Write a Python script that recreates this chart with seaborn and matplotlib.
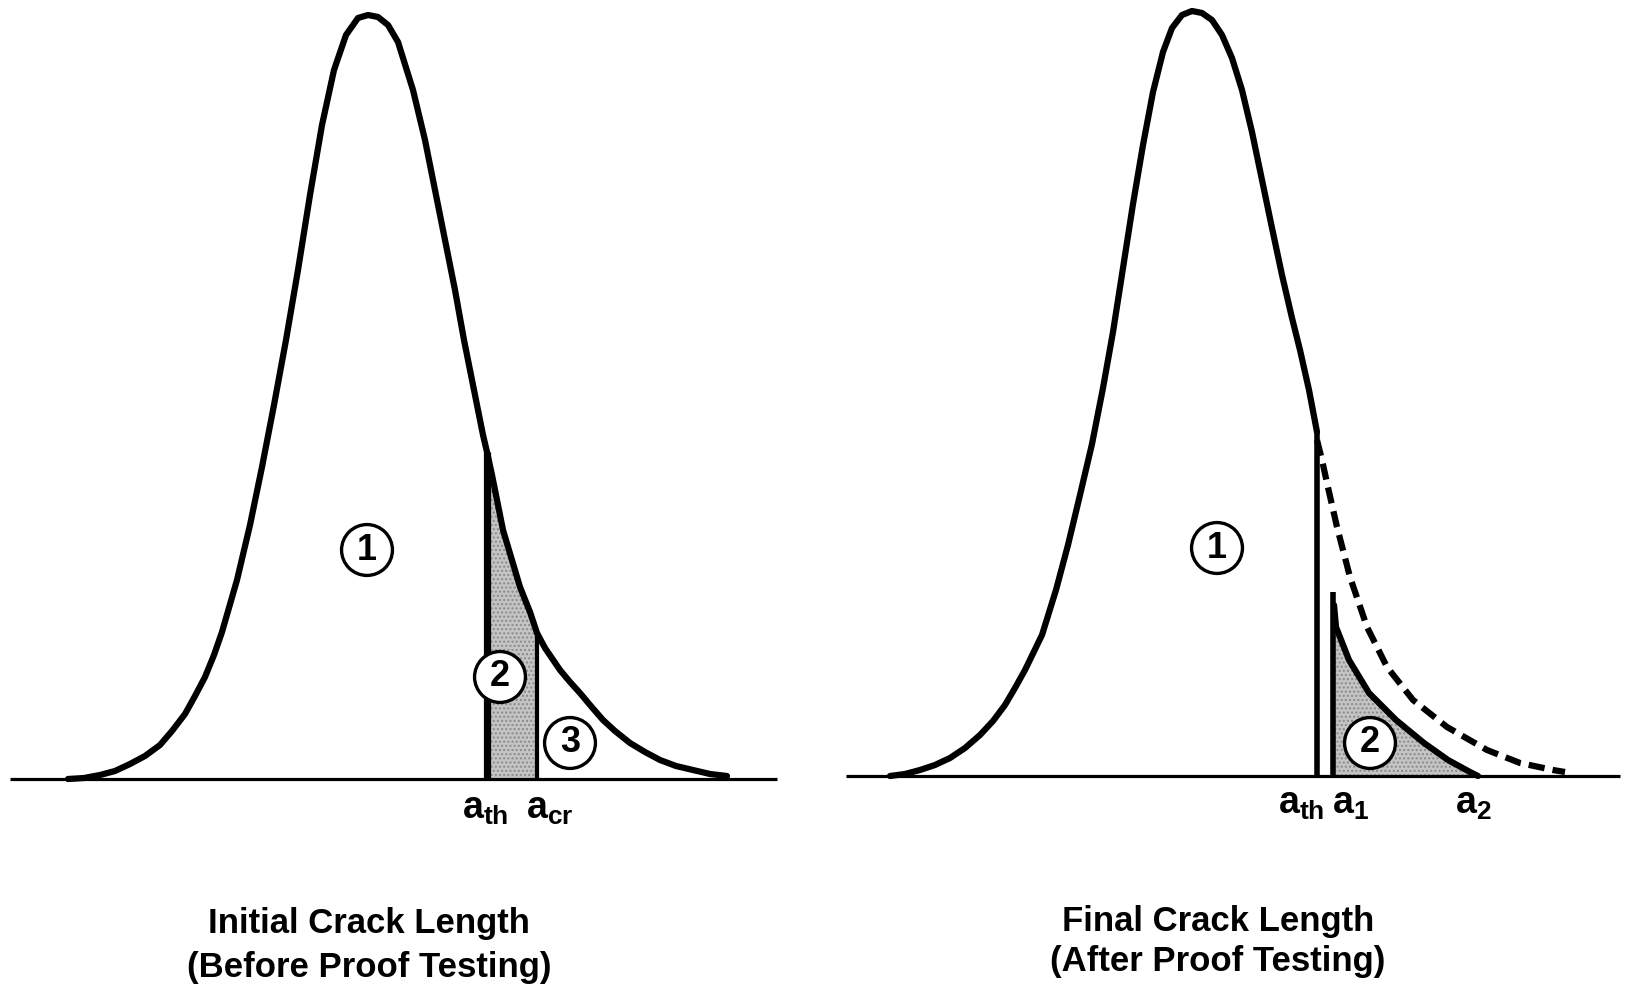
import seaborn as sns
import numpy as np
import matplotlib.pyplot as plt

# --- left panel: initial crack length (x in px-like units, h = height above baseline)
left_x = [68, 84, 100, 115, 130, 145, 160, 172, 185, 195, 205, 214, 222, 237, 250, 262, 274,
          286, 298, 310, 322, 334, 346, 358, 368, 378, 388, 398, 413, 425, 435, 445, 455,
          464, 474, 483, 487, 492, 503, 520, 530, 537, 545, 560, 570, 580, 590, 603, 615,
          630, 645, 660, 676, 693, 710, 727]
left_h = [0, 1, 4, 8, 15, 23, 34, 48, 65, 83, 102, 124, 147, 199, 254, 312, 374,
          439, 509, 584, 654, 709, 744, 761, 764, 762, 754, 737, 689, 639, 589, 539, 489,
          439, 389, 344, 327, 304, 249, 192, 167, 146, 131, 109, 97, 86, 74, 59, 48,
          36, 27, 19, 13, 9, 5, 3]
left_a_th = 487
left_a_cr = 537
left_base = [10, 777]

# --- right panel: final crack length
right_x = [890, 905, 920, 935, 950, 965, 980, 993, 1005, 1015, 1025, 1042, 1056, 1068, 1080,
           1092, 1103, 1113, 1123, 1133, 1143, 1153, 1163, 1172, 1182, 1192, 1202, 1212,
           1222, 1232, 1242, 1252, 1262, 1272, 1282, 1292, 1300, 1309, 1317]
right_h = [0, 2, 6, 11, 18, 28, 41, 55, 71, 88, 106, 141, 186, 231, 281,
           332, 388, 444, 508, 572, 631, 684, 724, 748, 761, 765, 763, 756,
           741, 718, 686, 644, 596, 548, 501, 458, 426, 386, 344]
dash_x = [1317, 1322, 1327, 1337, 1350, 1367, 1387, 1413, 1447, 1487, 1520, 1553, 1565]
dash_h = [336, 316, 293, 249, 199, 149, 109, 76, 49, 26, 13, 6, 4]
a1_x = [1334, 1336, 1349, 1369, 1396, 1424, 1448, 1470, 1478]
a1_h = [171, 149, 116, 83, 56, 33, 16, 4, 0]
right_a_th = 1317
right_a1 = 1333
right_a1_top = 184
right_base = [846, 1620]

sns.set_theme(style="white")
plt.rcParams['font.family'] = ['Liberation Sans', 'DejaVu Sans']
plt.rcParams['text.color'] = 'black'
plt.rcParams['mathtext.fontset'] = 'custom'
plt.rcParams['mathtext.rm'] = 'Liberation Sans:bold'
plt.rcParams['mathtext.it'] = 'Liberation Sans:bold'
plt.rcParams['mathtext.bf'] = 'Liberation Sans:bold'

fig = plt.figure(figsize=(16.28, 9.94), dpi=100)
axl = fig.add_axes([0, 0, 0.5, 1])
axr = fig.add_axes([0.5, 0, 0.5, 1])
axl.set_xlim(0, 814)
axl.set_ylim(779 - 994, 779)
axr.set_xlim(814, 1628)
axr.set_ylim(776 - 994, 776)

lx = np.array(left_x)
lh = np.array(left_h)
rx = np.array(right_x)
rh = np.array(right_h)

circ = dict(boxstyle='circle,pad=0.22', fc='white', ec='black', lw=2.4)
lab = dict(ha='center', va='center', fontsize=26, fontweight='bold', color='black')
sub = dict(fontsize=27, ha='center', va='center', color='black')
ttl = dict(fontsize=25, fontweight='bold', ha='center', va='center', color='black')

# left panel
shade = (lx >= left_a_th) & (lx <= left_a_cr)
axl.fill_between(lx, 0, lh, where=shade, facecolor='#c4c4c4', edgecolor='#8a8a8a',
                 hatch='....', linewidth=0, zorder=1)
sns.lineplot(x=lx, y=lh, ax=axl, color='black', lw=4.5, sort=False, estimator=None, zorder=3)
axl.hlines(0, left_base[0], left_base[1], color='black', lw=2.3, zorder=2)
axl.vlines(left_a_th, 0, lh[lx == left_a_th][0], color='black', lw=5.2, zorder=3)
axl.vlines(left_a_cr, 0, lh[lx == left_a_cr][0], color='black', lw=3, zorder=3)
axl.text(367, 229, '1', bbox=circ, **lab)
axl.text(500, 102, '2', bbox=circ, **lab)
axl.text(570, 36, '3', bbox=circ, **lab)
axl.text(485, -30, r'$\mathrm{a_{th}}$', **sub)
axl.text(550, -30, r'$\mathrm{a_{cr}}$', **sub)
axl.text(369, -145, 'Initial Crack Length', **ttl)
axl.text(369, -189, '(Before Proof Testing)', **ttl)

# right panel
axr.fill_between(np.array(a1_x), 0, a1_h, facecolor='#c4c4c4', edgecolor='#8a8a8a',
                 hatch='....', linewidth=0, zorder=1)
sns.lineplot(x=rx, y=rh, ax=axr, color='black', lw=4.5, sort=False, estimator=None, zorder=3)
sns.lineplot(x=dash_x, y=dash_h, ax=axr, color='black', lw=4.5, sort=False, estimator=None,
             linestyle=(0, (2.6, 1.3)), zorder=3)
sns.lineplot(x=a1_x, y=a1_h, ax=axr, color='black', lw=4.5, sort=False, estimator=None, zorder=3)
axr.hlines(0, right_base[0], right_base[1], color='black', lw=2.3, zorder=2)
axr.vlines(right_a_th, 0, rh[rx == right_a_th][0], color='black', lw=4, zorder=3)
axr.vlines(right_a1, 0, right_a1_top, color='black', lw=4, zorder=3)
axr.text(1217, 228, '1', bbox=circ, **lab)
axr.text(1370, 33, '2', bbox=circ, **lab)
axr.text(1301, -28, r'$\mathrm{a_{th}}$', **sub)
axr.text(1351, -28, r'$\mathrm{a_{1}}$', **sub)
axr.text(1473, -28, r'$\mathrm{a_{2}}$', **sub)
axr.text(1218, -145, 'Final Crack Length', **ttl)
axr.text(1218, -186, '(After Proof Testing)', **ttl)

for ax in (axl, axr):
    ax.set_axis_off()

fig.savefig('out.png', dpi=100, facecolor='white')
